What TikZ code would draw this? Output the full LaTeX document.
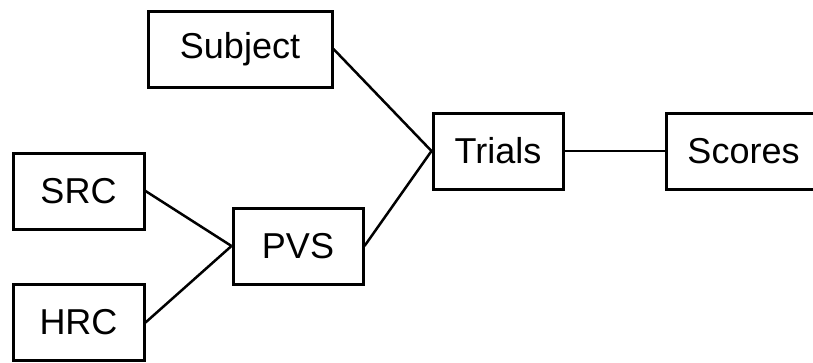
\documentclass[tikz,border=0pt]{standalone}
\usepackage{fontspec}
\setmainfont{Liberation Sans}
\tikzset{
  box/.style={draw, line width=3pt, minimum height=76pt, inner sep=0pt,
    font=\fontsize{36}{40}\selectfont},
  link/.style={line width=2.5pt}
}
\begin{document}
\begin{tikzpicture}[x=1pt, y=-1pt]
				\useasboundingbox (0,0) rectangle (813,362);
				\node[box, minimum width=184pt] (subject) at (240,49) {Subject};
				\node[box, minimum width=131pt] (src) at (78.5,191) {SRC};
				\node[box, minimum width=131pt] (hrc) at (78.5,322.5) {HRC};
				\node[box, minimum width=130pt] (pvs) at (298,246) {PVS};
				\node[box, minimum width=130pt] (trials) at (498,151) {Trials};
				\node[box, minimum width=155pt] (scores) at (743.5,151) {Scores};
				\draw[link] (subject.east) -- (trials.west);
				\draw[link] (src.east) -- (pvs.west);
				\draw[link] (hrc.east) -- (pvs.west);
				\draw[link] (pvs.east) -- (trials.west);
				\draw[link] (trials.east) -- (scores.west);
			\end{tikzpicture}
\end{document}
